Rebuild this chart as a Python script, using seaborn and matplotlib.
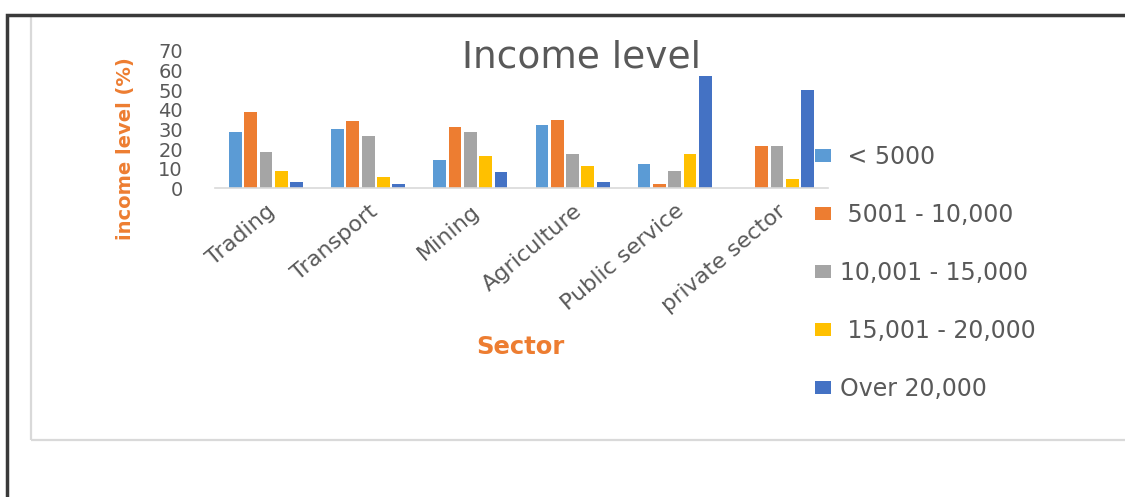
import matplotlib
matplotlib.use("Agg")
import matplotlib.pyplot as plt
from matplotlib.patches import Patch, Rectangle
import seaborn as sns
import pandas as pd

# Share of respondents (%) in each income band, by sector
sectors = ["Trading", "Transport", "Mining", "Agriculture", "Public service", "private sector"]
income_bands = ["< 5000", "5001 - 10,000", "10,001 - 15,000", "15,001 - 20,000", "Over 20,000"]
legend_labels = [" < 5000", " 5001 - 10,000", "10,001 - 15,000", " 15,001 - 20,000", "Over 20,000"]

below_5000 = [28.5, 30, 14.5, 32, 12.5, 0]
from_5001_to_10000 = [39, 34, 31, 35, 2, 21.5]
from_10001_to_15000 = [18.5, 26.5, 28.5, 17.5, 9, 21.5]
from_15001_to_20000 = [9, 6, 16.5, 11.5, 17.5, 5]
over_20000 = [3, 2, 8.5, 3, 57, 50]

y_ticks = [0, 10, 20, 30, 40, 50, 60, 70]

band_colors = ["#5B9BD5", "#ED7D31", "#A5A5A5", "#FFC000", "#4472C4"]
text_gray = "#595959"
axis_orange = "#ED7D31"

series = [below_5000, from_5001_to_10000, from_10001_to_15000,
          from_15001_to_20000, over_20000]
rows = []
for band, vals in zip(income_bands, series):
    for sector, v in zip(sectors, vals):
        rows.append({"Sector": sector, "Income": band, "value": v})
df = pd.DataFrame(rows)

sns.set_theme(style="white")
plt.rcParams["font.family"] = ["DejaVu Sans"]

fig = plt.figure(figsize=(11.25, 4.97), dpi=100)
ax = fig.add_axes([0.191, 0.621, 0.545, 0.277])

sns.barplot(data=df, x="Sector", y="value", hue="Income",
            hue_order=income_bands, order=sectors,
            palette=band_colors, saturation=1, width=0.75, gap=0.17,
            linewidth=0, legend=False, ax=ax)

ax.set_xlim(-0.5, len(sectors) - 0.5)
ax.set_ylim(0, 70)
ax.set_yticks(y_ticks)
ax.set_yticklabels([str(t) for t in y_ticks], fontsize=14, color=text_gray)
ax.tick_params(axis="y", length=0, pad=23)
ax.tick_params(axis="x", length=0, pad=9)
ax.set_xticks(range(len(sectors)))
ax.set_xticklabels(sectors, rotation=40, ha="right", rotation_mode="anchor",
                   fontsize=16, color=text_gray)
ax.set_xlabel("")
ax.set_ylabel("")
for side in ["top", "right", "left"]:
    ax.spines[side].set_visible(False)
ax.spines["bottom"].set_color("#D9D9D9")
ax.spines["bottom"].set_linewidth(1.2)
ax.grid(False)
ax.set_facecolor("none")

# Titles
fig.text(581 / 1125, 1 - 58 / 497, "Income level", fontsize=27,
         color=text_gray, ha="center", va="center")
fig.text(126 / 1125, 1 - 149 / 497, "income level (%)", fontsize=14,
         fontweight="bold", color=axis_orange, rotation=90,
         ha="center", va="center")
fig.text(520 / 1125, 1 - 347 / 497, "Sector", fontsize=17.5,
         fontweight="bold", color=axis_orange, ha="center", va="center")

# Legend on the right
handles = [Patch(facecolor=c, edgecolor="none") for c in band_colors]
fig.legend(handles, legend_labels, loc="upper left",
           bbox_to_anchor=(815 / 1125, 1 - 145 / 497),
           frameon=False, fontsize=17, labelcolor=text_gray,
           labelspacing=1.44, handlelength=0.68, handleheight=0.5,
           handletextpad=0.38, borderpad=0, borderaxespad=0)

# Chart frames
fig.add_artist(Rectangle((31 / 1125, 1 - 440 / 497), 1.2, 424 / 497,
                         transform=fig.transFigure, fill=False,
                         edgecolor="#D9D9D9", linewidth=1.6))
fig.add_artist(Rectangle((7 / 1125, -0.2), 1.2, 1.2 - 15 / 497,
                         transform=fig.transFigure, fill=False,
                         edgecolor="#3A3A3A", linewidth=2.5))

fig.savefig("out.png", dpi=100)
